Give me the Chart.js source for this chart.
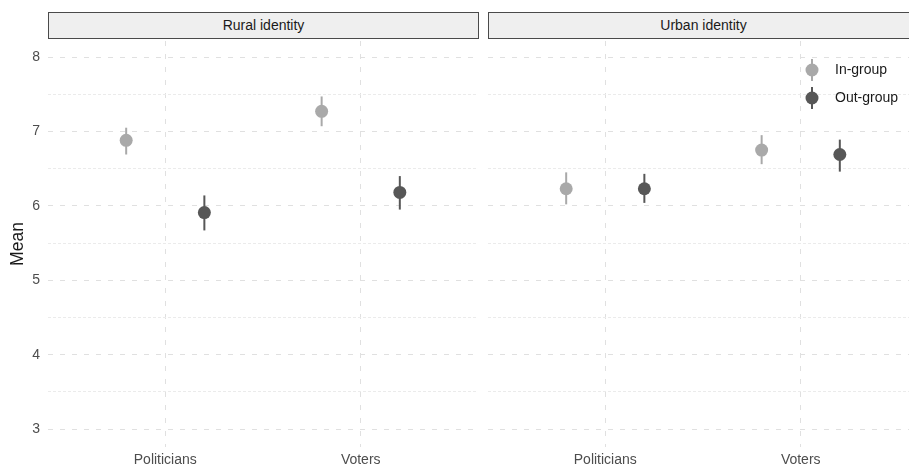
<!DOCTYPE html>
<html>
<head>
<meta charset="utf-8">
<script src="https://cdn.jsdelivr.net/npm/chart.js@4/dist/chart.umd.min.js"></script>
<style>
  html, body { margin: 0; padding: 0; background: #fff; }
  #wrap { position: relative; width: 909px; height: 468px; overflow: hidden; background: #fff;
          font-family: "Liberation Sans", Arial, sans-serif; }
  .strip { position: absolute; top: 12px; height: 25px; width: 429px; background: #efefef;
           border: 1px solid #4a4a4a; color: #1a1a1a; font-size: 14px; line-height: 25px; text-align: center; }
  canvas { position: absolute; top: 38px; }
</style>
</head>
<body>
<div id="wrap">
  <div class="strip" id="stripL" style="left:48px"></div>
  <div class="strip" id="stripR" style="left:488px"></div>
  <canvas id="left" width="478" height="430" style="left:0px"></canvas>
  <canvas id="right" width="430" height="430" style="left:488px"></canvas>
</div>
<script>
// Facets, categories and group labels
const panels = ['Rural identity', 'Urban identity'];
const categories = ['Politicians', 'Voters'];
const groups = ['In-group', 'Out-group'];

// Means with lower / upper interval bounds, per category
const ruralIn      = [6.88, 7.27];
const ruralInLow   = [6.69, 7.07];
const ruralInHigh  = [7.05, 7.47];
const ruralOut     = [5.91, 6.18];
const ruralOutLow  = [5.67, 5.95];
const ruralOutHigh = [6.14, 6.40];

const urbanIn      = [6.23, 6.75];
const urbanInLow   = [6.02, 6.56];
const urbanInHigh  = [6.45, 6.95];
const urbanOut     = [6.23, 6.69];
const urbanOutLow  = [6.04, 6.46];
const urbanOutHigh = [6.43, 6.89];

// y axis: labelled integer ticks plus unlabelled half steps
const yTicks = [3, 3.5, 4, 4.5, 5, 5.5, 6, 6.5, 7, 7.5, 8];

const groupColors = ['#a9a9a9', '#575757'];
const dodge = 0.2;
const FONT = '"Liberation Sans", Arial, sans-serif';

document.getElementById('stripL').textContent = panels[0];
document.getElementById('stripR').textContent = panels[1];

function series(means, lows, highs, offset) {
  return means.map((m, i) => ({ x: i + 1 + offset, y: m, low: lows[i], high: highs[i] }));
}

// Vertical interval lines behind each point
const errorBars = {
  id: 'errorBars',
  beforeDatasetsDraw(chart) {
    const ctx = chart.ctx, y = chart.scales.y;
    chart.data.datasets.forEach((ds, di) => {
      const meta = chart.getDatasetMeta(di);
      ctx.save();
      ctx.strokeStyle = ds.borderColor;
      ctx.lineWidth = 2;
      ds.data.forEach((d, i) => {
        const px = meta.data[i].x;
        ctx.beginPath();
        ctx.moveTo(px, y.getPixelForValue(d.low));
        ctx.lineTo(px, y.getPixelForValue(d.high));
        ctx.stroke();
      });
      ctx.restore();
    });
  }
};

// Key for the groups, drawn inside the right facet
const groupKey = {
  id: 'groupKey',
  afterDraw(chart) {
    const ctx = chart.ctx;
    const kx = 324, ky = [32, 60], tx = 347;
    ctx.save();
    chart.data.datasets.forEach((ds, i) => {
      ctx.strokeStyle = ds.borderColor;
      ctx.fillStyle = ds.backgroundColor;
      ctx.lineWidth = 2;
      ctx.beginPath();
      ctx.moveTo(kx, ky[i] - 11);
      ctx.lineTo(kx, ky[i] + 11);
      ctx.stroke();
      ctx.beginPath();
      ctx.arc(kx, ky[i], 6.5, 0, Math.PI * 2);
      ctx.fill();
      ctx.fillStyle = '#1a1a1a';
      ctx.font = '14px ' + FONT;
      ctx.textBaseline = 'middle';
      ctx.textAlign = 'left';
      ctx.fillText(ds.label, tx, ky[i]);
    });
    ctx.restore();
  }
};

function makeChart(id, inMeans, inLow, inHigh, outMeans, outLow, outHigh, showY, plugins) {
  const tickFont = { family: FONT, size: 14 };
  return new Chart(document.getElementById(id), {
    type: 'scatter',
    data: {
      datasets: [
        { label: groups[0], data: series(inMeans, inLow, inHigh, -dodge),
          backgroundColor: groupColors[0], borderColor: groupColors[0], pointRadius: 6.5, pointBorderWidth: 0, pointHoverRadius: 6.5 },
        { label: groups[1], data: series(outMeans, outLow, outHigh, dodge),
          backgroundColor: groupColors[1], borderColor: groupColors[1], pointRadius: 6.5, pointBorderWidth: 0, pointHoverRadius: 6.5 }
      ]
    },
    options: {
      responsive: false,
      animation: false,
      devicePixelRatio: 1,
      layout: { autoPadding: false, padding: { top: 3, right: 0, left: 0, bottom: 0 } },
      plugins: { legend: { display: false }, tooltip: { enabled: false } },
      scales: {
        x: {
          type: 'linear', min: 0.4, max: 2.6,
          afterBuildTicks: s => { s.ticks = categories.map((c, i) => ({ value: i + 1 })); },
          afterFit: s => { s.height = 21; s.paddingLeft = 0; s.paddingRight = 0; },
          ticks: { autoSkip: false, maxRotation: 0, padding: 5, color: '#4d4d4d', font: tickFont,
                   callback: v => categories[v - 1] },
          grid: { color: '#e0e0e0', lineWidth: 1, drawTicks: false },
          border: { display: false, dash: [5, 8] }
        },
        y: {
          type: 'linear', min: 2.76, max: 8.215,
          afterBuildTicks: s => { s.ticks = yTicks.map(v => ({ value: v })); },
          afterFit: s => { s.width = showY ? 48 : 0; s.paddingTop = 0; s.paddingBottom = 0; },
          ticks: { display: showY, autoSkip: false, padding: 8, color: '#4d4d4d', font: tickFont,
                   callback: v => Number.isInteger(v) ? String(v) : '' },
          title: { display: showY, text: 'Mean', color: '#1a1a1a', padding: { top: 7.5, bottom: 0 },
                   font: { family: FONT, size: 17.5 } },
          grid: { drawTicks: false, lineWidth: 1,
                  color: c => Number.isInteger(c.tick.value) ? '#e0e0e0' : '#ebebeb' },
          border: { display: false, dash: c => Number.isInteger(c.tick.value) ? [5, 7] : [3, 2] }
        }
      }
    },
    plugins: plugins
  });
}

makeChart('left', ruralIn, ruralInLow, ruralInHigh, ruralOut, ruralOutLow, ruralOutHigh, true, [errorBars]);
makeChart('right', urbanIn, urbanInLow, urbanInHigh, urbanOut, urbanOutLow, urbanOutHigh, false, [errorBars, groupKey]);
</script>
</body>
</html>
